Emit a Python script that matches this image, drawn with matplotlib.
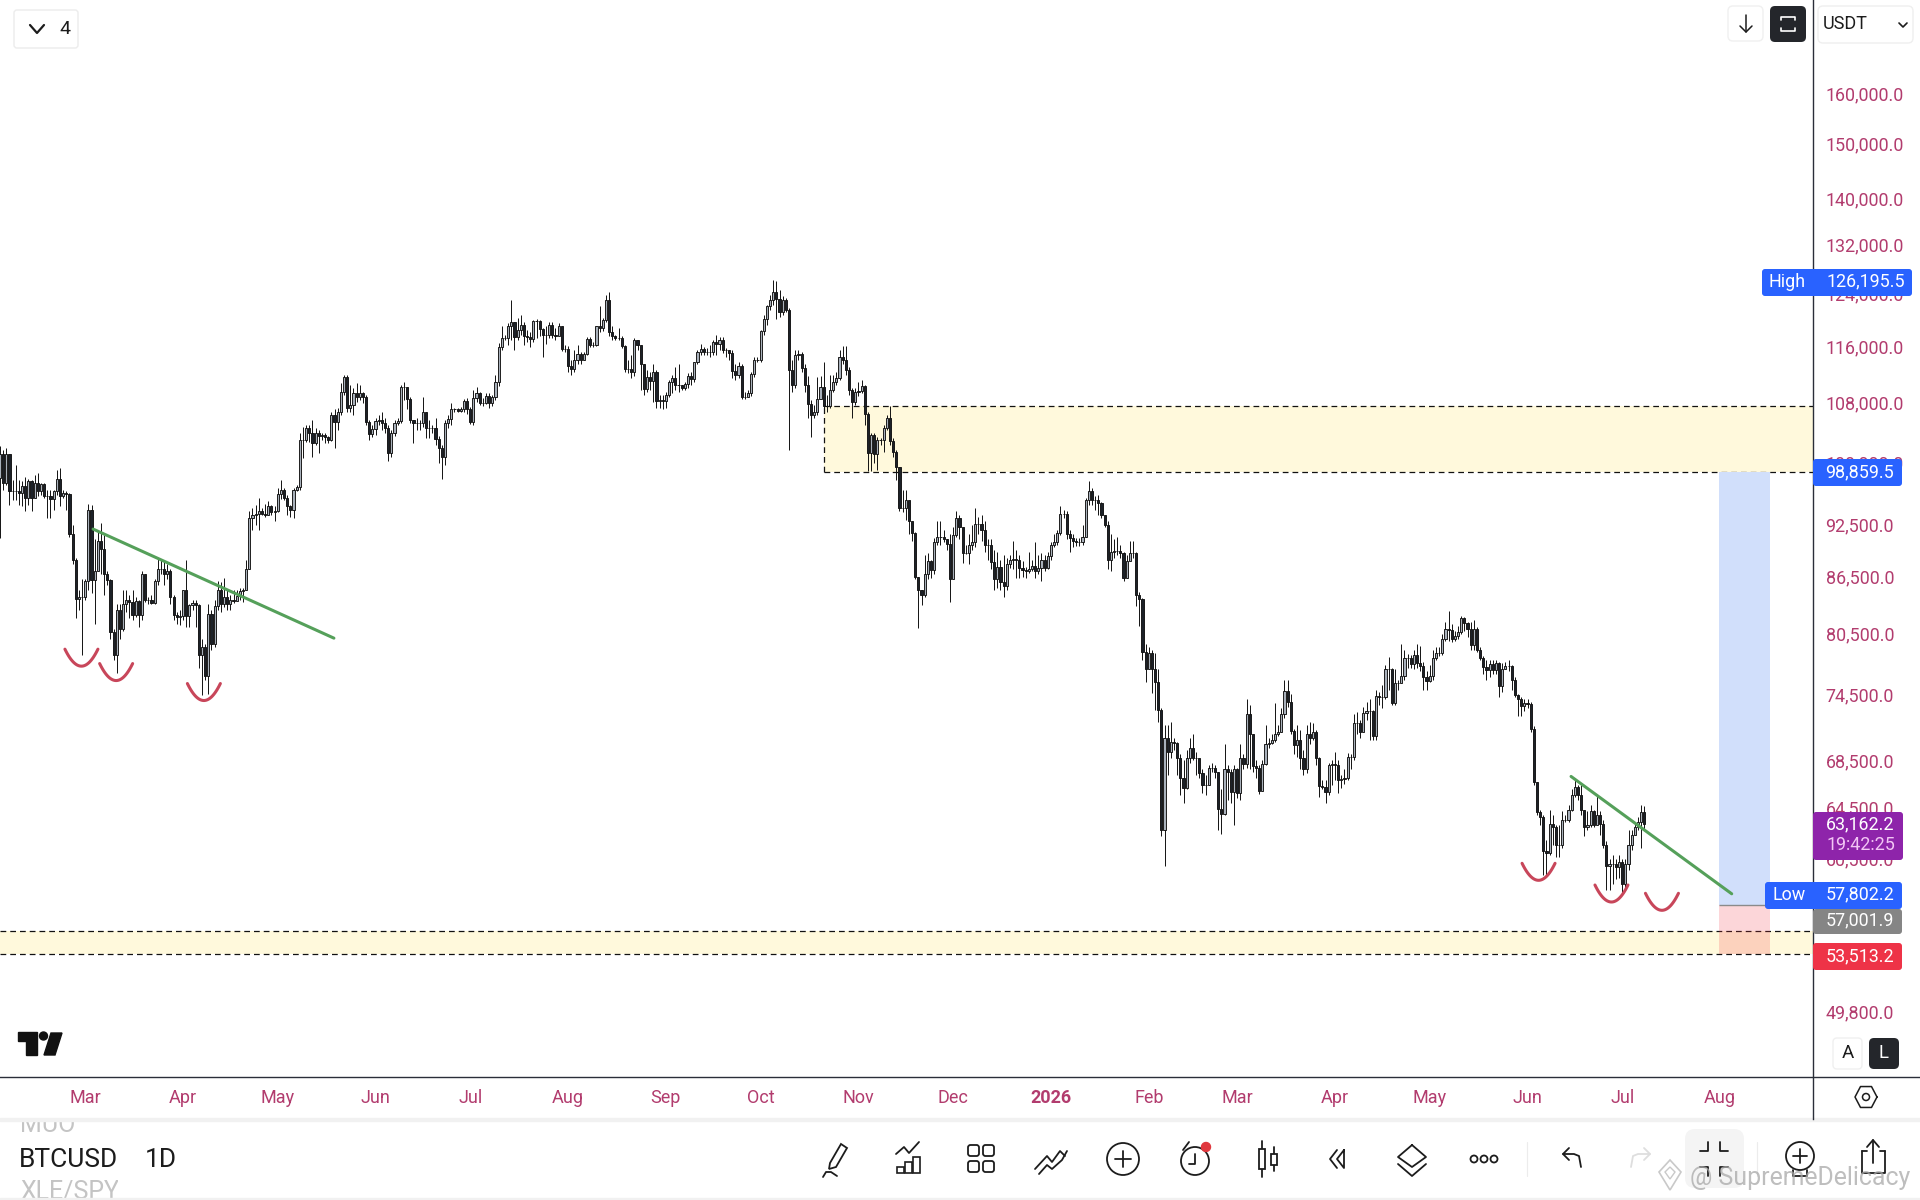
import numpy as np
import matplotlib
matplotlib.use("Agg")
import matplotlib.pyplot as plt
import matplotlib.dates as mdates
from matplotlib.patches import FancyBboxPatch, Polygon, Circle, Rectangle
from matplotlib.ticker import NullLocator, FuncFormatter

plt.rcParams['font.family'] = ['Roboto', 'DejaVu Sans']

START_DATE = "2025-02-02"

# daily closes, highs and lows in thousands of USDT
close_k = [
    101.1,97.4,101.1,96.5,96.4,96.4,96.2,97.1,95.6,97.7,
    95.6,97.5,96.4,97.3,95.9,95.8,95.5,96.5,97.9,95.9,
    96.2,96.1,91.3,88.4,84.1,84.3,84.3,86.0,94.1,86.1,
    87.1,90.5,89.6,86.8,86.1,80.6,78.3,82.9,80.9,83.5,
    84.0,83.8,82.4,83.9,82.4,86.8,84.0,84.0,83.7,86.0,
    87.3,87.3,86.8,87.1,84.3,82.4,82.2,82.3,85.0,82.3,
    83.4,83.7,83.4,78.3,79.1,76.2,82.5,79.4,83.3,85.0,
    83.6,84.3,83.5,84.0,83.9,84.4,84.9,85.1,87.3,93.2,
    93.5,93.7,94.0,93.7,93.6,94.6,93.9,94.0,96.1,96.6,
    95.6,94.6,94.1,96.6,96.9,102.9,102.9,104.5,103.8,102.5,
    103.8,103.4,103.6,103.3,102.9,106.3,105.3,106.7,109.4,111.5,
    107.2,107.6,109.3,108.7,109.3,108.7,105.3,103.7,104.4,105.5,
    105.6,105.2,104.5,101.2,103.9,105.2,105.5,110.1,110.1,108.4,
    105.6,105.2,105.2,105.2,106.6,104.5,104.5,104.5,103.0,101.9,
    100.7,105.2,105.7,107.0,107.0,106.8,107.0,108.2,107.0,105.3,
    108.6,109.3,107.9,107.9,108.9,107.9,108.7,110.8,115.8,117.2,
    117.2,118.9,119.6,117.3,118.4,119.1,117.5,117.3,117.0,119.7,
    119.7,118.5,117.6,117.6,119.1,117.6,117.5,118.9,115.6,115.6,
    113.1,112.7,114.0,114.8,113.9,114.8,117.0,116.2,116.2,118.9,
    118.6,119.9,123.0,118.1,117.5,117.2,117.2,116.0,112.7,112.7,
    112.2,116.8,116.2,
    113.3,109.8,111.5,111.0,112.2,108.2,108.3,108.2,109.0,110.8,
    111.4,110.4,110.4,110.0,110.5,111.7,111.2,113.6,115.1,115.6,
    115.1,115.1,115.1,116.6,116.3,116.9,115.4,115.4,115.0,
    112.4,111.8,113.1,108.7,108.7,109.3,111.9,114.0,114.0,118.2,
    120.1,122.0,123.0,124.3,123.2,121.1,123.0,121.4,112.5,110.4,
    114.7,114.8,112.8,110.4,107.7,106.3,106.6,108.4,110.1,107.5,
    107.5,109.7,110.8,111.4,114.3,114.0,112.5,109.7,108.0,109.4,
    109.6,110.3,106.4,101.2,103.6,101.1,102.9,102.9,104.5,105.9,
    102.8,101.3,99.4,94.4,94.4,95.4,92.8,91.4,86.5,85.0,84.5,
    86.8,88.2,87.2,90.4,91.0,91.0,90.7,90.2,86.2,91.2,
    93.2,92.1,89.2,89.2,90.1,90.4,92.5,92.5,91.8,90.1,
    90.0,88.1,86.2,87.6,85.9,85.5,87.9,88.4,88.5,88.4,
    87.5,87.2,87.1,87.4,87.7,87.1,87.5,88.3,87.5,88.8,
    90.0,90.4,91.4,93.7,93.7,91.3,90.9,90.5,90.4,90.4,91.0,
    95.3,96.5,95.4,95.4,95.0,93.5,92.4,88.3,89.3,89.4,
    89.4,89.1,86.4,88.2,89.2,89.2,84.5,84.1,78.6,
    76.9,78.5,76.9,75.7,73.0,62.7,70.5,69.2,70.1,70.0,
    68.7,67.0,66.1,68.7,69.6,68.7,68.7,67.4,66.4,66.4,
    67.8,67.8,67.5,64.4,64.0,67.7,67.5,65.8,67.7,65.7,
    68.7,68.2,72.6,70.8,68.0,67.8,65.9,68.2,69.9,70.0,
    70.3,70.8,71.0,72.6,74.8,73.8,71.1,69.8,70.3,68.7,
    67.7,70.8,70.5,71.0,68.7,66.3,66.2,65.8,68.1,68.2,
    68.1,66.8,66.9,67.0,68.8,68.8,71.8,71.8,71.0,72.7,
    72.9,72.9,70.6,74.3,74.2,74.2,76.9,76.9,73.7,75.6,
    75.6,76.2,78.0,78.0,77.4,78.3,77.5,77.2,76.1,75.8,
    76.2,78.0,78.5,78.5,79.9,80.9,80.8,79.9,80.2,80.6,
    82.1,81.6,80.9,79.3,80.9,78.8,78.0,77.1,76.8,77.4,
    76.8,77.5,75.3,76.9,77.2,77.2,75.9,74.4,74.0,73.4,
    73.7,73.6,71.3,66.6,64.1,63.7,61.0,60.9,63.2,62.9,
    61.5,61.5,63.5,63.5,64.3,65.5,66.2,65.5,64.3,62.9,
    63.1,64.2,63.1,63.9,63.2,61.5,59.9,60.0,60.0,59.8,
    60.2,58.5,60.0,61.5,62.3,62.9,63.3,64.1,63.16,
]
high_k = [
    102.2,101.6,101.9,99.1,97.8,99.7,97.8,97.7,98.2,98.0,
    97.8,98.4,98.7,97.4,97.4,96.6,96.6,96.6,99.1,99.3,
    96.6,96.4,96.2,92.4,88.6,85.1,86.2,86.2,94.9,94.8,
    90.7,91.8,92.6,91.2,87.1,86.2,80.9,83.5,83.5,85.1,
    85.1,84.5,85.1,84.3,84.0,87.1,86.8,84.3,84.5,86.2,
    88.6,88.4,88.2,87.9,87.3,84.5,82.7,82.9,85.1,88.4,
    83.6,84.0,84.0,83.5,79.9,79.4,83.5,82.9,84.0,86.0,
    85.9,86.4,85.1,84.5,85.1,85.1,85.3,85.3,88.4,94.0,
    94.4,94.8,95.6,94.4,94.9,95.2,94.8,94.6,96.8,97.8,
    96.8,96.0,94.8,96.8,97.2,103.9,104.6,104.9,104.9,105.6,
    104.5,104.3,103.9,103.9,103.4,106.7,107.0,107.2,110.7,111.8,
    111.8,110.4,110.0,110.7,110.4,109.4,109.0,105.6,104.9,105.9,
    106.3,106.6,105.9,104.9,104.3,105.6,105.9,110.4,110.8,110.1,
    108.7,105.6,105.9,105.6,108.7,106.6,105.6,104.9,105.9,103.4,
    102.3,105.6,106.3,107.9,107.2,107.2,107.3,108.4,108.6,107.3,
    109.7,110.1,109.4,108.6,109.3,109.3,109.0,111.8,116.5,118.9,
    117.6,119.4,123.0,119.6,120.2,120.7,119.6,118.4,118.0,119.9,
    120.1,119.9,118.6,118.9,119.6,119.6,118.6,119.4,118.6,116.2,
    116.0,114.0,115.4,116.2,115.1,115.1,117.3,117.3,116.6,118.9,
    122.1,120.2,123.8,124.3,118.9,117.6,118.6,117.5,116.2,114.0,
    114.7,117.2,116.9,
    115.4,113.3,112.5,112.2,113.3,112.5,109.0,109.0,109.4,111.1,
    111.8,112.9,113.3,110.4,110.8,112.1,112.2,113.7,115.4,116.3,
    115.9,115.7,116.2,116.9,117.6,117.3,117.3,115.7,115.4,
    115.4,113.3,113.7,113.3,109.4,109.7,112.2,114.3,114.4,118.4,
    120.7,122.2,123.8,126.2,125.9,124.6,123.6,123.3,121.7,114.0,
    115.4,115.4,115.1,113.3,111.7,108.3,107.6,111.5,111.7,113.7,
    109.0,111.8,111.8,112.2,115.4,116.0,116.0,112.9,110.0,110.0,
    110.8,111.1,110.4,106.7,103.9,103.9,103.3,103.2,104.9,106.3,
    107.5,103.2,101.6,99.5,96.6,96.6,93.6,92.0,91.6,86.5,85.1,
    88.9,89.2,88.4,90.9,92.8,92.8,91.8,90.7,91.3,92.2,
    94.0,93.6,91.8,90.1,91.3,92.4,94.4,93.3,93.6,92.8,
    90.7,90.7,89.5,89.3,88.4,88.9,88.6,88.9,90.5,89.5,
    88.9,88.2,87.6,89.3,88.4,90.4,88.9,89.2,88.9,89.3,
    90.4,91.3,91.8,94.6,94.2,94.0,91.8,91.3,90.9,90.9,92.4,
    95.6,97.7,96.8,95.8,96.0,95.1,93.6,92.8,91.3,90.7,
    91.0,90.1,89.3,88.9,90.5,90.5,89.3,84.8,84.2,
    79.4,79.1,78.8,78.5,76.9,73.2,71.6,71.6,71.9,70.5,
    70.1,69.0,68.5,69.4,70.5,70.8,69.2,68.5,67.7,67.2,
    68.1,68.3,68.1,67.5,66.0,69.9,68.1,67.7,68.1,67.8,
    69.9,69.0,74.0,73.5,70.8,68.5,68.1,68.5,71.6,70.5,
    70.8,73.7,71.6,73.2,75.9,75.9,74.5,71.3,71.6,71.2,
    69.4,71.6,71.9,71.8,71.2,68.8,66.8,66.8,68.3,68.5,
    69.2,68.5,67.2,67.7,69.1,69.0,72.6,72.8,72.1,73.3,
    73.8,74.0,73.0,74.9,74.7,75.4,77.3,78.1,77.0,76.9,
    75.9,79.4,78.8,78.4,78.3,78.8,79.4,79.2,77.6,76.7,
    77.3,78.8,79.1,79.1,80.4,81.7,82.8,81.4,80.7,81.2,
    82.3,82.2,81.7,81.7,81.9,81.1,79.1,78.2,77.8,77.8,
    77.8,77.8,77.6,77.5,77.6,77.8,77.3,76.1,74.5,74.2,
    74.0,74.0,73.8,71.5,66.6,64.3,63.9,61.9,64.3,63.9,
    63.1,63.1,64.2,63.9,64.7,66.0,67.0,66.4,66.4,64.3,
    64.2,64.7,64.3,65.5,64.2,63.5,61.8,60.4,60.7,60.4,
    60.7,60.4,60.4,62.7,62.7,63.3,63.7,64.7,64.6,
]
low_k = [
    90.9,96.6,97.2,94.8,95.4,95.4,94.8,94.6,94.0,94.8,
    94.0,95.6,95.8,96.0,95.6,93.2,93.2,94.2,96.0,94.6,
    95.6,94.2,91.0,87.9,82.1,82.9,78.3,84.0,85.1,84.7,
    81.4,87.1,86.8,84.5,85.6,79.9,77.8,76.5,79.9,80.7,
    82.7,82.1,81.9,82.2,81.1,81.9,83.8,83.5,83.5,83.5,
    85.6,86.8,85.6,86.2,83.5,81.9,81.4,81.3,81.9,81.1,
    81.1,82.9,81.1,77.0,74.4,75.9,74.5,78.8,79.1,82.9,
    82.7,83.2,82.9,82.9,83.7,84.0,84.0,83.8,85.1,87.3,
    91.8,92.4,91.8,93.5,93.3,93.5,93.6,92.8,93.9,95.5,
    95.4,93.6,93.3,93.2,96.4,96.6,100.6,102.6,102.6,100.7,
    102.3,101.2,102.9,102.5,102.5,102.8,101.9,104.3,106.3,109.0,
    106.7,106.7,106.3,108.0,108.3,107.9,104.9,102.9,103.3,103.6,
    104.9,104.3,103.9,100.2,100.7,103.4,104.9,105.2,108.3,107.0,
    105.2,102.5,104.3,104.3,104.6,103.2,103.2,103.9,102.3,99.9,
    97.9,99.7,104.5,104.9,106.6,106.6,106.6,106.7,106.4,105.0,
    104.9,108.0,107.6,107.5,107.7,107.2,107.5,108.3,110.3,115.4,
    116.9,116.2,116.9,115.4,116.9,117.6,116.2,116.6,115.9,116.6,
    117.2,117.5,114.4,116.3,117.2,117.2,116.9,117.5,115.3,115.1,
    112.2,111.8,112.2,113.3,113.3,114.0,114.7,115.9,115.9,116.0,
    118.1,118.2,119.6,117.5,116.9,116.8,116.9,115.7,112.2,112.1,
    111.4,111.7,115.4,
    109.7,109.0,109.4,109.7,108.0,107.2,107.2,107.0,107.2,108.7,
    109.3,109.7,109.4,109.7,109.7,110.0,110.4,110.8,113.3,114.7,
    114.7,114.6,114.3,114.6,114.6,115.4,115.0,114.3,114.0,
    111.4,111.1,111.4,108.4,108.4,108.7,108.9,111.5,113.7,113.7,
    117.6,119.1,121.4,122.2,120.1,120.4,120.7,121.1,101.6,109.4,
    110.0,114.0,112.2,109.4,105.9,103.3,105.9,106.3,109.0,106.7,
    106.6,107.2,109.4,110.4,111.1,113.3,111.8,109.0,105.9,107.6,
    108.9,109.3,104.9,98.9,98.9,100.0,99.1,102.3,101.4,104.3,
    102.3,100.7,97.8,94.0,93.9,93.0,91.3,90.5,86.2,81.0,83.4,
    84.3,86.2,86.4,86.8,90.1,90.1,90.4,89.5,83.8,86.2,
    91.0,90.7,88.0,89.0,87.9,89.5,89.8,91.3,90.5,89.3,
    88.4,87.3,85.1,85.3,85.1,84.3,85.1,87.5,87.3,86.4,
    86.4,86.5,86.4,86.9,87.1,86.4,86.8,86.0,87.1,87.3,
    88.4,89.8,90.1,91.2,93.2,90.7,89.3,89.8,89.9,89.9,90.0,
    91.0,94.8,94.8,94.2,93.6,93.2,92.1,87.3,87.1,88.6,
    88.9,88.6,86.0,86.4,88.4,88.6,83.3,81.2,77.8,
    75.7,76.9,74.6,73.0,71.9,62.2,59.9,67.2,68.7,69.4,
    67.2,65.5,64.9,66.0,68.3,68.5,67.2,67.0,65.7,65.5,
    66.4,67.5,67.0,62.7,62.4,63.9,65.1,64.9,63.1,65.3,
    65.1,67.7,67.8,67.7,67.5,67.0,65.6,66.0,68.1,69.6,
    69.9,70.1,70.6,71.0,72.3,73.3,70.8,69.0,68.8,67.7,
    67.2,67.4,69.9,70.3,68.1,65.4,66.0,64.9,65.5,66.4,
    66.8,65.7,66.1,66.5,66.8,67.7,68.5,70.8,70.5,71.2,
    72.1,70.3,70.3,70.3,73.5,73.2,74.0,74.9,73.5,73.5,
    74.9,75.9,75.9,77.0,77.0,76.9,77.0,76.7,74.9,74.9,
    75.7,75.9,77.8,78.2,78.3,79.7,79.7,79.6,79.7,79.9,
    80.4,80.7,80.1,78.8,78.8,78.6,77.8,76.4,75.9,76.1,
    76.4,76.4,74.2,74.7,76.9,76.7,74.9,74.2,72.5,72.5,
    72.9,73.2,71.0,66.4,63.9,63.1,59.2,59.2,60.7,61.5,
    60.6,60.6,61.3,63.3,63.3,64.2,65.4,65.1,63.9,62.2,
    62.7,62.9,62.9,63.1,62.3,61.3,58.1,58.1,58.5,58.9,
    59.0,57.8,58.1,59.6,61.1,62.3,62.7,61.3,62.7,
]
assert len(close_k) == len(high_k) == len(low_k), (len(close_k), len(high_k), len(low_k))

price_ticks = [160000, 150000, 140000, 132000, 124000, 116000, 108000, 100000,
               92500, 86500, 80500, 74500, 68500, 64500, 60500, 49800]
month_ticks = ["2025-03-01", "2025-04-01", "2025-05-01", "2025-06-01", "2025-07-01",
               "2025-08-01", "2025-09-01", "2025-10-01", "2025-11-01", "2025-12-01",
               "2026-01-01", "2026-02-01", "2026-03-01", "2026-04-01", "2026-05-01",
               "2026-06-01", "2026-07-01", "2026-08-01"]
month_labels = ["Mar", "Apr", "May", "Jun", "Jul", "Aug", "Sep", "Oct", "Nov", "Dec",
                "2026", "Feb", "Mar", "Apr", "May", "Jun", "Jul", "Aug"]

# supply / demand zones and the long position
zone_top = [98859.5, 107500.0]
zone_top_start = 261.0
zone_low = [53513.2, 55100.0]
entry, target, stop = 57001.9, 98859.5, 53513.2
position_days = [544.7, 560.8]

# drawn on the chart by hand: trend lines and the little red smiles
trend_days = [[29.5, 105.8], [497.8, 548.7]]
trend_prices = [[91900, 80000], [67100, 57800]]
smile_days = [25.8, 36.8, 64.6, 487.5, 510.6, 526.6]
smile_prices = [77200, 75800, 73900, 58800, 57200, 56600]

PINK = "#b23c6e"
BLUE = "#2962ff"
DARK = "#24262b"
ICON = "#1c1c1c"

close = np.array(close_k) * 1000
high = np.array(high_k) * 1000
low = np.array(low_k) * 1000
open_ = np.r_[close[0] * 0.97, close[:-1]]
d0 = mdates.datestr2num(START_DATE)
days = d0 + np.arange(len(close))

fig = plt.figure(figsize=(19.2, 12), dpi=100, facecolor="white")
ax = fig.add_axes([0, 123 / 1200, 1812.5 / 1920, 1077 / 1200])
ax.set_yscale("log")
ax.set_ylim(45790, 180070)
ax.set_xlim(d0, d0 + 574.3)
for s in ax.spines.values():
    s.set_visible(False)

# y axis
ax.yaxis.tick_right()
ax.yaxis.set_minor_locator(NullLocator())
ax.set_yticks(price_ticks)
ax.yaxis.set_major_formatter(FuncFormatter(lambda v, p: f"{v:,.1f}"))
ax.tick_params(axis="y", length=0, pad=9.4, labelsize=12.9, labelcolor=PINK)

# x axis
ax.set_xticks(mdates.datestr2num(month_ticks))
ax.set_xticklabels(month_labels)
ax.tick_params(axis="x", length=0, pad=8.5, labelsize=13, labelcolor=PINK)
for t in ax.get_xticklabels():
    if t.get_text() == "2026":
        t.set_fontweight("bold")

# zones
dash = (0, (4.6, 3.2))
zx0 = d0 + zone_top_start
zx1 = ax.get_xlim()[1]
ax.fill_between([zx0, zx1], zone_top[0], zone_top[1], color="#fff9dc", lw=0, zorder=1)
ax.fill_between([d0, zx1], zone_low[0], zone_low[1], color="#fff9dc", lw=0, zorder=1)
ax.hlines(zone_top, zx0, zx1, color="#111111", lw=0.9, linestyles=[dash], zorder=2)
ax.vlines(zx0, zone_top[0], zone_top[1], color="#111111", lw=0.9, linestyles=[dash], zorder=2)
ax.hlines(zone_low, d0, zx1, color="#111111", lw=0.9, linestyles=[dash], zorder=2)

# long position
px0, px1 = d0 + position_days[0], d0 + position_days[1]
ax.fill_between([px0, px1], entry, target, color="#d1dffb", lw=0, zorder=2.2)
ax.fill_between([px0, px1], stop, entry, color="#f23645", alpha=0.2, lw=0, zorder=2.2)
ax.hlines(entry, px0, px1, color="#8a8a8a", lw=1.0, zorder=2.3)

# candles
ax.vlines(days, low, high, color="#111111", lw=0.7, zorder=3)
up = close >= open_
ax.bar(days[up], (close - open_)[up], bottom=open_[up], width=0.68,
       color="#a9b1bb", edgecolor="#111111", linewidth=0.65, zorder=4)
ax.bar(days[~up], (open_ - close)[~up], bottom=close[~up], width=0.68,
       color="#1c2128", edgecolor="#111111", linewidth=0.65, zorder=4)

# trend lines
for tx, ty in zip(trend_days, trend_prices):
    ax.plot(d0 + np.array(tx), ty, color="#55a05a", lw=2.2, zorder=5, solid_capstyle="round")

# interface layer in pixels, y going down
ui = fig.add_axes([0, 0, 1, 1], facecolor="none")
ui.set_xlim(0, 1920)
ui.set_ylim(1200, 0)
ui.axis("off")

# smiles sit on the price scale but have a fixed size on screen
for sd, sp in zip(smile_days, smile_prices):
    dx, dy = ax.transData.transform((d0 + sd, sp))
    cy = 1200 - dy
    t = np.linspace(-1, 1, 30)
    ui.plot(dx + 16.5 * t, cy - 17 * t ** 2, color="#c8465a", lw=2.2, solid_capstyle="round")


def box(x0, y0, x1, y1, color, edge="none", r=3, lw=1.0, z=3):
    ui.add_patch(FancyBboxPatch((x0, y0), x1 - x0, y1 - y0, boxstyle=f"round,pad=0,rounding_size={r}",
                                facecolor=color, edgecolor=edge, linewidth=lw, zorder=z))


def label(x, y, s, color="white", size=12.9, ha="left", weight="normal"):
    ui.text(x, y, s, color=color, fontsize=size, ha=ha, va="center", fontweight=weight, zorder=6)


def line(xs, ys, color=ICON, lw=1.3, z=5):
    ui.plot(xs, ys, color=color, lw=lw, zorder=z, solid_capstyle="round", solid_joinstyle="round")


# axis frame lines
ui.plot([0, 1920], [1077, 1077], color="#2a2e39", lw=1.0, zorder=2)
ui.plot([1812.5, 1812.5], [0, 1119], color="#2a2e39", lw=1.0, zorder=2)

# price labels
box(1762, 269, 1912, 296, BLUE)
label(1787, 282, "High", ha="center")
label(1826, 281, "126,195.5")
box(1813, 459, 1902, 486, BLUE)
label(1825, 472, "98,859.5")
box(1813, 812, 1903, 860, "#8e24aa")
label(1826, 824, "63,162.2")
label(1826, 845, "19:42:25", color="#f3c6f5")
box(1765, 882, 1902, 909, BLUE)
label(1789, 895, "Low", ha="center")
label(1826, 894, "57,802.2")
box(1813, 909, 1902, 934, "#858585")
label(1826, 920, "57,001.9")
box(1813, 943, 1902, 970, "#ee3347")
label(1826, 956, "53,513.2")

# top left and top right controls
box(14, 10, 78, 48, "white", edge="#ececec")
line([30, 37, 44], [25, 33, 25], lw=1.6)
label(59, 29, "4", color=ICON, size=14)
box(1728, 6, 1763, 41, "white", edge="#f0f0f0", r=5)
line([1746, 1746], [15, 32], lw=1.1)
line([1740, 1746, 1752], [26, 32, 26], lw=1.1)
box(1770, 6, 1806, 42, DARK, r=5)
line([1781, 1781, 1795, 1795], [20, 17, 17, 20], color="white", lw=1.2)
line([1781, 1781, 1795, 1795], [28, 31, 31, 28], color="white", lw=1.2)
box(1818, 6, 1913, 43, "white", edge="#efefef", r=5)
label(1823, 24, "USDT", color=ICON, size=13)
line([1899, 1903, 1907], [23, 27, 23], lw=1.2)

# A / L buttons and settings
box(1833, 1038, 1862, 1069, "white", edge="#f0f0f0", r=4)
label(1848, 1053, "A", color=ICON, size=13.5, ha="center")
box(1869, 1038, 1899, 1069, DARK, r=5)
label(1884, 1053, "L", size=13.5, ha="center")
hx = 1866 + 11 * np.array([1, 0.5, -0.5, -1, -0.5, 0.5, 1])
hy = 1097 + 11 * np.array([0, 0.95, 0.95, 0, -0.95, -0.95, 0])
line(hx, hy, lw=1.1)
ui.add_patch(Circle((1866, 1097), 3.5, fill=False, edgecolor=ICON, lw=1.1, zorder=5))

# logo
ui.add_patch(Polygon([(18, 1032), (37, 1032), (37, 1055), (26, 1055), (26, 1041), (18, 1041)], color="#111111", zorder=5))
ui.add_patch(Circle((43.5, 1036), 4, color="#111111", zorder=5))
ui.add_patch(Polygon([(51, 1033), (62, 1033), (55, 1055), (44, 1055)], color="#111111", zorder=5))

# bottom bar: symbols list, clipped by the separators
bar_clip = Rectangle((0, 1120), 118, 78, transform=ui.transData)
for sy, sym in [(1125, "MUO"), (1192, "XLE/SPY")]:
    st = ui.text(20, sy, sym, color="#c4c4c4", fontsize=18, va="center", zorder=1, clip_on=True)
    st.set_clip_path(bar_clip)
ui.add_patch(Rectangle((0, 1198), 1920, 2, color="#f1f1f1", zorder=1.5))
ui.add_patch(Rectangle((0, 1118), 1920, 3, color="#f1f1f1", zorder=1.5))
ui.text(19, 1160, "BTCUSD", color=ICON, fontsize=19, va="center", zorder=2)
ui.text(145, 1160, "1D", color=ICON, fontsize=19, va="center", zorder=2)

# toolbar icons
cy = 1159
# pencil
ui.add_patch(Polygon([(830, cy + 4), (841, cy - 15), (847, cy - 11), (836, cy + 8), (829, cy + 10)], fill=False, edgecolor=ICON, lw=1.3, zorder=5))
line([823, 826, 831, 837], [cy + 18, cy + 13, cy + 13, cy + 17])
# indicators
for bx, bt in [(897, 8), (905, 3), (913, -2)]:
    ui.add_patch(Rectangle((bx, cy + bt), 7, 12 - bt + 2, fill=False, edgecolor=ICON, lw=1.2, zorder=5))
line([896, 904, 909, 919], [cy - 5, cy - 12, cy - 6, cy - 17])
# grid
for gx in (968, 983):
    for gy in (cy - 14, cy + 2):
        box(gx, gy, gx + 11, gy + 11, "white", edge=ICON, r=2.5, lw=1.3, z=5)
# drawings
line([1035, 1047, 1052, 1060, 1065], [cy + 10, cy - 3, cy + 3, cy - 8, cy - 3], lw=1.3)
line([1039, 1047, 1052, 1062, 1067], [cy + 15, cy + 6, cy + 10, cy + 1, cy - 8], lw=1.3)
# add
ui.add_patch(Circle((1123, cy), 16, fill=False, edgecolor=ICON, lw=1.3, zorder=5))
line([1123, 1123], [cy - 8, cy + 8])
line([1115, 1131], [cy, cy])
# alert
ui.add_patch(Circle((1195, cy + 2), 14, fill=False, edgecolor=ICON, lw=1.3, zorder=5))
line([1195, 1195, 1189], [cy - 5, cy + 5, cy + 5])
line([1183, 1189], [cy - 9, cy - 17])
ui.add_patch(Circle((1206, cy - 12), 4.5, color="#e0383e", zorder=6))
# candles
line([1262, 1262], [cy - 18, cy + 18])
ui.add_patch(Rectangle((1259, cy - 10), 6, 20, facecolor="white", edgecolor=ICON, lw=1.3, zorder=5.5))
line([1274, 1274], [cy - 12, cy + 12])
ui.add_patch(Rectangle((1271, cy - 5), 6, 11, facecolor="white", edgecolor=ICON, lw=1.3, zorder=5.5))
# replay
line([1337, 1330, 1337], [cy - 9, cy, cy + 9])
line([1344, 1337, 1344, 1344], [cy - 9, cy, cy + 9, cy - 9])
# layers
line([1412, 1426, 1412, 1398, 1412], [cy - 14, cy - 2, cy + 8, cy - 2, cy - 14])
line([1398, 1412, 1426], [cy + 5, cy + 17, cy + 5])
# more
for mx in (1474, 1484, 1494):
    ui.add_patch(Circle((mx, cy), 3.5, fill=False, edgecolor=ICON, lw=1.3, zorder=5))
# undo, redo
line([1581, 1579, 1574, 1563], [cy + 8, cy - 3, cy - 5, cy - 5])
line([1569, 1563, 1569], [cy - 11, cy - 5, cy + 1])
line([1631, 1633, 1638, 1650], [cy + 8, cy - 3, cy - 5, cy - 5], color="#dedede")
line([1644, 1650, 1644], [cy - 11, cy - 5, cy + 1], color="#dedede")
# separators
line([1527, 1527], [1142, 1176], color="#ececec", lw=0.8)
line([1757, 1757], [1142, 1176], color="#ececec", lw=0.8)
# compress
box(1685, 1129, 1744, 1188, "#f4f4f4", r=10, z=2)
line([1700, 1708, 1708], [cy - 8, cy - 8, cy - 17])
line([1728, 1720, 1720], [cy - 8, cy - 8, cy - 17])
line([1700, 1708, 1708], [cy + 8, cy + 8, cy + 17])
line([1728, 1720, 1720], [cy + 8, cy + 8, cy + 17])
# ideas
ui.add_patch(Circle((1800, cy - 3), 14, fill=False, edgecolor=ICON, lw=1.3, zorder=5))
line([1800, 1800], [cy - 10, cy + 4])
line([1793, 1807], [cy - 3, cy - 3])
line([1793, 1793, 1807, 1807], [cy + 11, cy + 17, cy + 17, cy + 11])
# share
line([1862, 1862, 1885, 1885], [cy - 8, cy + 14, cy + 14, cy - 8])
line([1862, 1867], [cy - 8, cy - 8])
line([1880, 1885], [cy - 8, cy - 8])
line([1873, 1873], [cy + 4, cy - 19])
line([1867, 1873, 1879], [cy - 12, cy - 19, cy - 12])

# watermark
ui.add_patch(Polygon([(1670, 1160), (1681, 1172), (1670, 1190), (1659, 1172)], fill=False, edgecolor="#c9c9c9", lw=1.2, zorder=7))
ui.add_patch(Polygon([(1670, 1167), (1675, 1172), (1670, 1179), (1665, 1172)], fill=False, edgecolor="#c9c9c9", lw=1.0, zorder=7))
ui.text(1690, 1178, "@ SupremeDelicacy", color="#a8a8a8", alpha=0.75, fontsize=17.9, va="center", zorder=7)

fig.savefig("out.png", dpi=100)
